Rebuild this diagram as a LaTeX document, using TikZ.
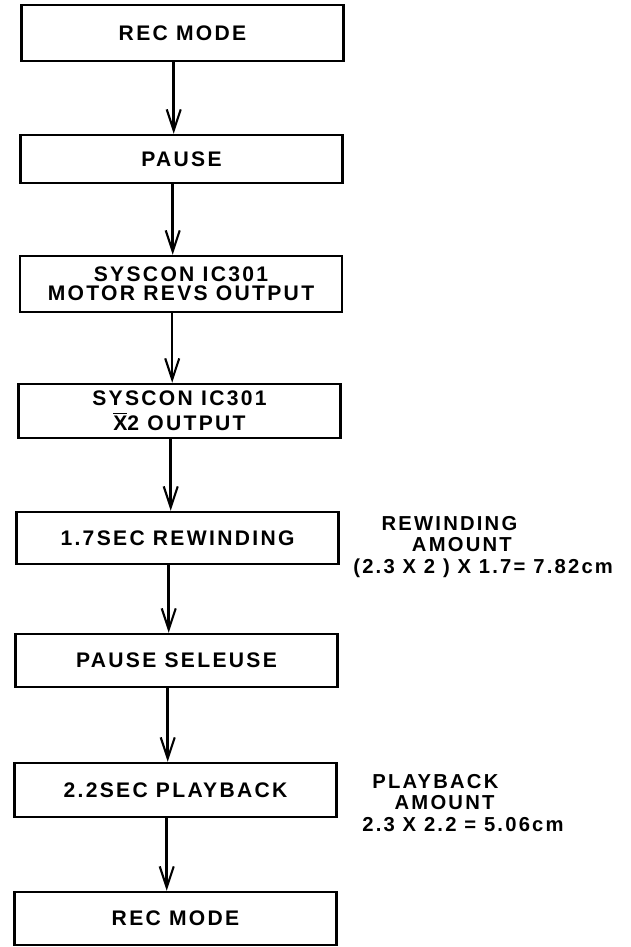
\documentclass[tikz,border=0pt]{standalone}
\usepackage{fontspec}
\setmainfont{Liberation Sans}[LetterSpace=11]
\usetikzlibrary{arrows.meta}

\begin{document}
\begin{tikzpicture}[x=0.02cm, y=-0.02cm]

	% 样式
	\tikzset{
		stepbox/.style={
			draw, line width=1.4pt,
			minimum width=6.44cm, minimum height=#1,
			inner sep=2pt, align=center,
			font=\fontsize{12}{11}\selectfont\bfseries
		},
		stepbox/.default=1.06cm,
		flow/.style={
			line width=1.4pt,
			-{Straight Barb[length=12pt,width=8pt,line width=1.2pt]}
		},
		note/.style={
			anchor=west, inner sep=0pt, align=left,
			font=\fontsize{11.5}{12}\selectfont\bfseries
		}
	}

	% 画布
	\fill[white] (0,0) rectangle (631,947);
	\useasboundingbox (0,0) rectangle (631,947);

	% 方框
	\node[stepbox=1.12cm] (b1) at (182.5,33) {REC MODE};
	\node[stepbox=0.96cm] (b2) at (181.5,159) {PAUSE};
	\node[stepbox=1.12cm] (b3) at (181,284) {SYSCON IC301\\MOTOR REVS OUTPUT};
	\node[stepbox=1.08cm] (b4) at (179.5,411) {SYSCON IC301\\[3pt]$\overline{\hbox{X}}$2 OUTPUT};
	\node[stepbox=1.04cm] (b5) at (177.5,538) {1.7SEC REWINDING};
	\node[stepbox=1.06cm] (b6) at (176.5,660.5) {PAUSE SELEUSE};
	\node[stepbox=1.08cm] (b7) at (175.5,790) {2.2SEC PLAYBACK};
	\node[stepbox=1.06cm] (b8) at (175.5,918.5) {REC MODE};

	% 箭头
	\foreach \a/\b in {b1/b2,b2/b3,b3/b4,b4/b5,b5/b6,b6/b7,b7/b8} {
		\draw[flow] ([xshift=-5pt]\a.south) -- ([xshift=-5pt]\a.south |- \b.north);
	}

	% 右侧说明
	\node[note] (rw) at (353,547) {\hspace*{1.4em}REWINDING\\ \hspace*{2.9em}AMOUNT\\ (2.3 X 2 ) X 1.7= 7.82cm};
	\node[note] (pb) at (362,803) {\hspace*{0.5em}PLAYBACK\\ \hspace*{1.6em}AMOUNT\\ 2.3 X 2.2 = 5.06cm};

\end{tikzpicture}
\end{document}
